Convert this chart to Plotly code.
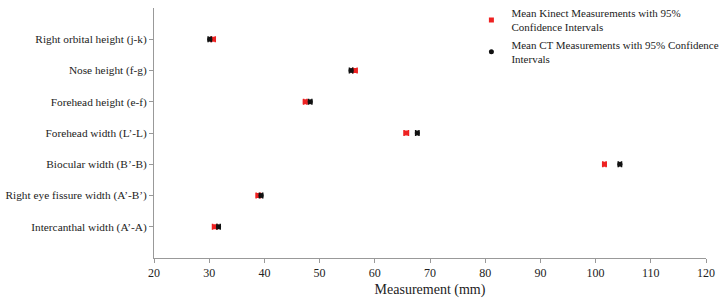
import plotly.graph_objects as go

categories = ["Intercanthal width (A’-A)", "Right eye fissure width (A’-B’)",
              "Biocular width (B’-B)", "Forehead width (L’-L)",
              "Forehead height (e-f)", "Nose height (f-g)", "Right orbital height (j-k)"]
cat_pos = [1, 2, 3, 4, 5, 6, 7]
kinect_mean = [31.0, 38.9, 101.6, 65.7, 47.4, 56.4, 30.7]
kinect_err = [0.4, 0.4, 0.3, 0.4, 0.3, 0.4, 0.4]
ct_mean = [31.7, 39.4, 104.4, 67.7, 48.3, 55.7, 30.1]
ct_err = [0.3, 0.3, 0.3, 0.3, 0.3, 0.3, 0.3]
x_ticks = [20, 30, 40, 50, 60, 70, 80, 90, 100, 110, 120]

font = "Liberation Serif"

fig = go.Figure()
fig.add_trace(go.Scatter(
    x=kinect_mean, y=cat_pos, mode="markers",
    name="Mean Kinect Measurements with 95%<br>Confidence Intervals",
    marker=dict(symbol="square", size=5, color="#ee2222"),
    error_x=dict(type="data", array=kinect_err, color="#ee2222", thickness=1.5, width=3),
))
fig.add_trace(go.Scatter(
    x=ct_mean, y=cat_pos, mode="markers",
    name="Mean CT Measurements with 95% Confidence<br>Intervals",
    marker=dict(symbol="circle", size=5, color="#111111"),
    error_x=dict(type="data", array=ct_err, color="#111111", thickness=1.5, width=3),
))

fig.update_layout(
    width=720, height=305,
    margin=dict(l=154, r=14, t=8, b=47, autoexpand=False),
    paper_bgcolor="white", plot_bgcolor="white",
    font=dict(family=font, size=12, color="#222222"),
    legend=dict(x=0.575, y=1.035, xanchor="left", yanchor="top",
                font=dict(family=font, size=11), bgcolor="rgba(0,0,0,0)",
                tracegroupgap=14, itemwidth=30),
    showlegend=True,
)
fig.update_xaxes(range=[20, 120], tickvals=x_ticks, showgrid=False, zeroline=False,
                 showline=True, linecolor="#999999", linewidth=1,
                 ticks="outside", ticklen=4, tickcolor="#999999",
                 tickfont=dict(size=12),
                 title=dict(text="Measurement (mm)", font=dict(size=14), standoff=4))
fig.update_yaxes(range=[0, 8], tickvals=cat_pos, ticktext=categories, showgrid=False,
                 zeroline=False, showline=True, linecolor="#999999", linewidth=1,
                 ticks="outside", ticklen=4, tickcolor="#999999",
                 tickfont=dict(size=11.3))

fig.write_html("out.html", config={"displayModeBar": False},
               post_script="document.body.style.margin='0';")
